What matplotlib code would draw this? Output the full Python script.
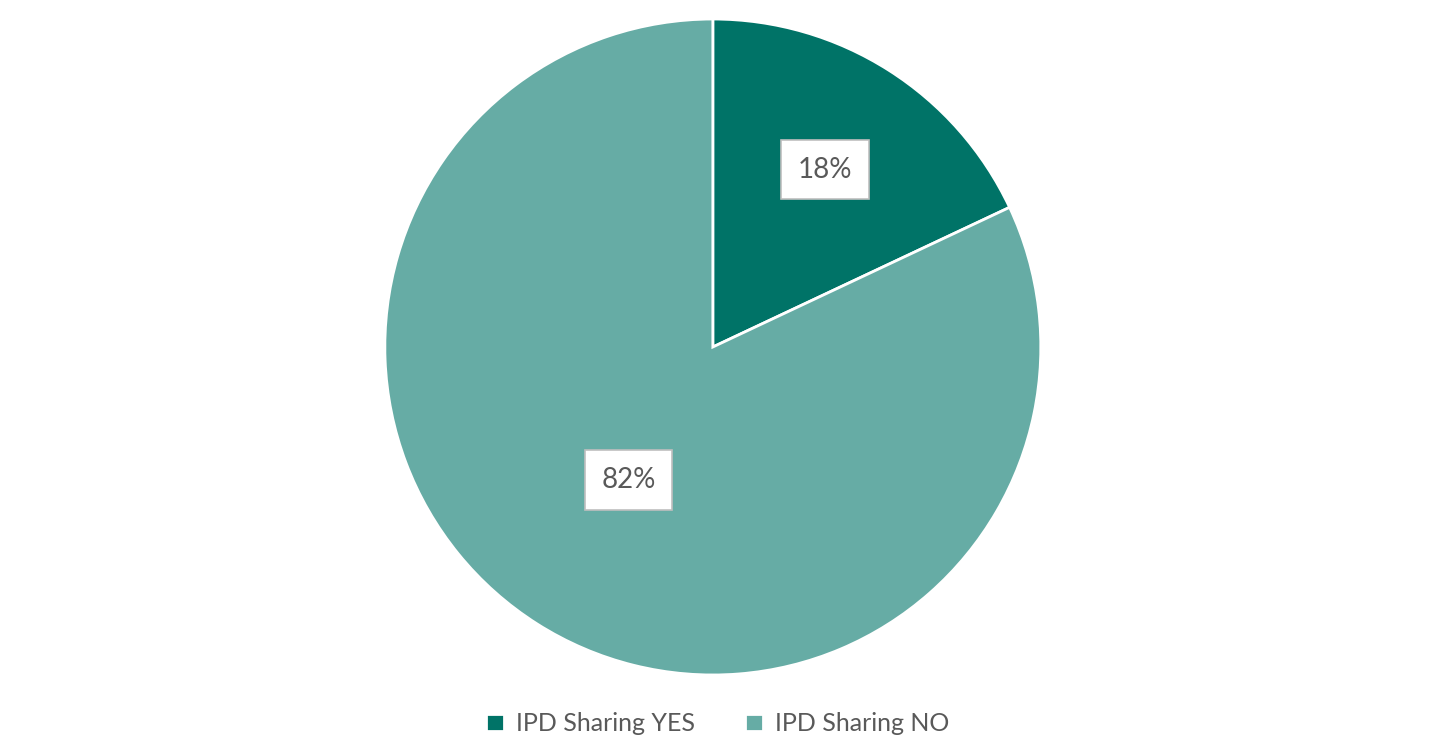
import matplotlib.pyplot as plt
import numpy as np

labels = ['IPD Sharing YES', 'IPD Sharing NO']
values = [18, 82]
colors = ['#007367', '#66ACA5']
label_dist = [0.64, 0.48]

plt.rcParams['font.family'] = ['Lato', 'DejaVu Sans']

fig = plt.figure(figsize=(14.36, 7.51), dpi=100)
ax = fig.add_axes([0.268, 0.1012, 0.4568, 0.8735])

wedges, _ = ax.pie(values, colors=colors, startangle=90, counterclock=False,
                   wedgeprops=dict(edgecolor='white', linewidth=2))
ax.set_xlim(-1, 1)
ax.set_ylim(-1, 1)
ax.set_aspect('equal')

for w, v, d in zip(wedges, values, label_dist):
    ang = np.deg2rad((w.theta1 + w.theta2) / 2)
    ax.text(d * np.cos(ang), d * np.sin(ang), f'{v}%', ha='center', va='center',
            fontsize=20, color='#595959',
            bbox=dict(boxstyle='square,pad=0.6', facecolor='white', edgecolor='#BFBFBF', linewidth=1.2))

fig.legend(wedges, labels, loc='center', bbox_to_anchor=(0.5, 0.036), ncol=2,
           frameon=False, fontsize=18, labelcolor='#595959', handlelength=0.7,
           handleheight=0.7, handletextpad=0.5, columnspacing=2.0)

fig.savefig('out.png', dpi=100)
